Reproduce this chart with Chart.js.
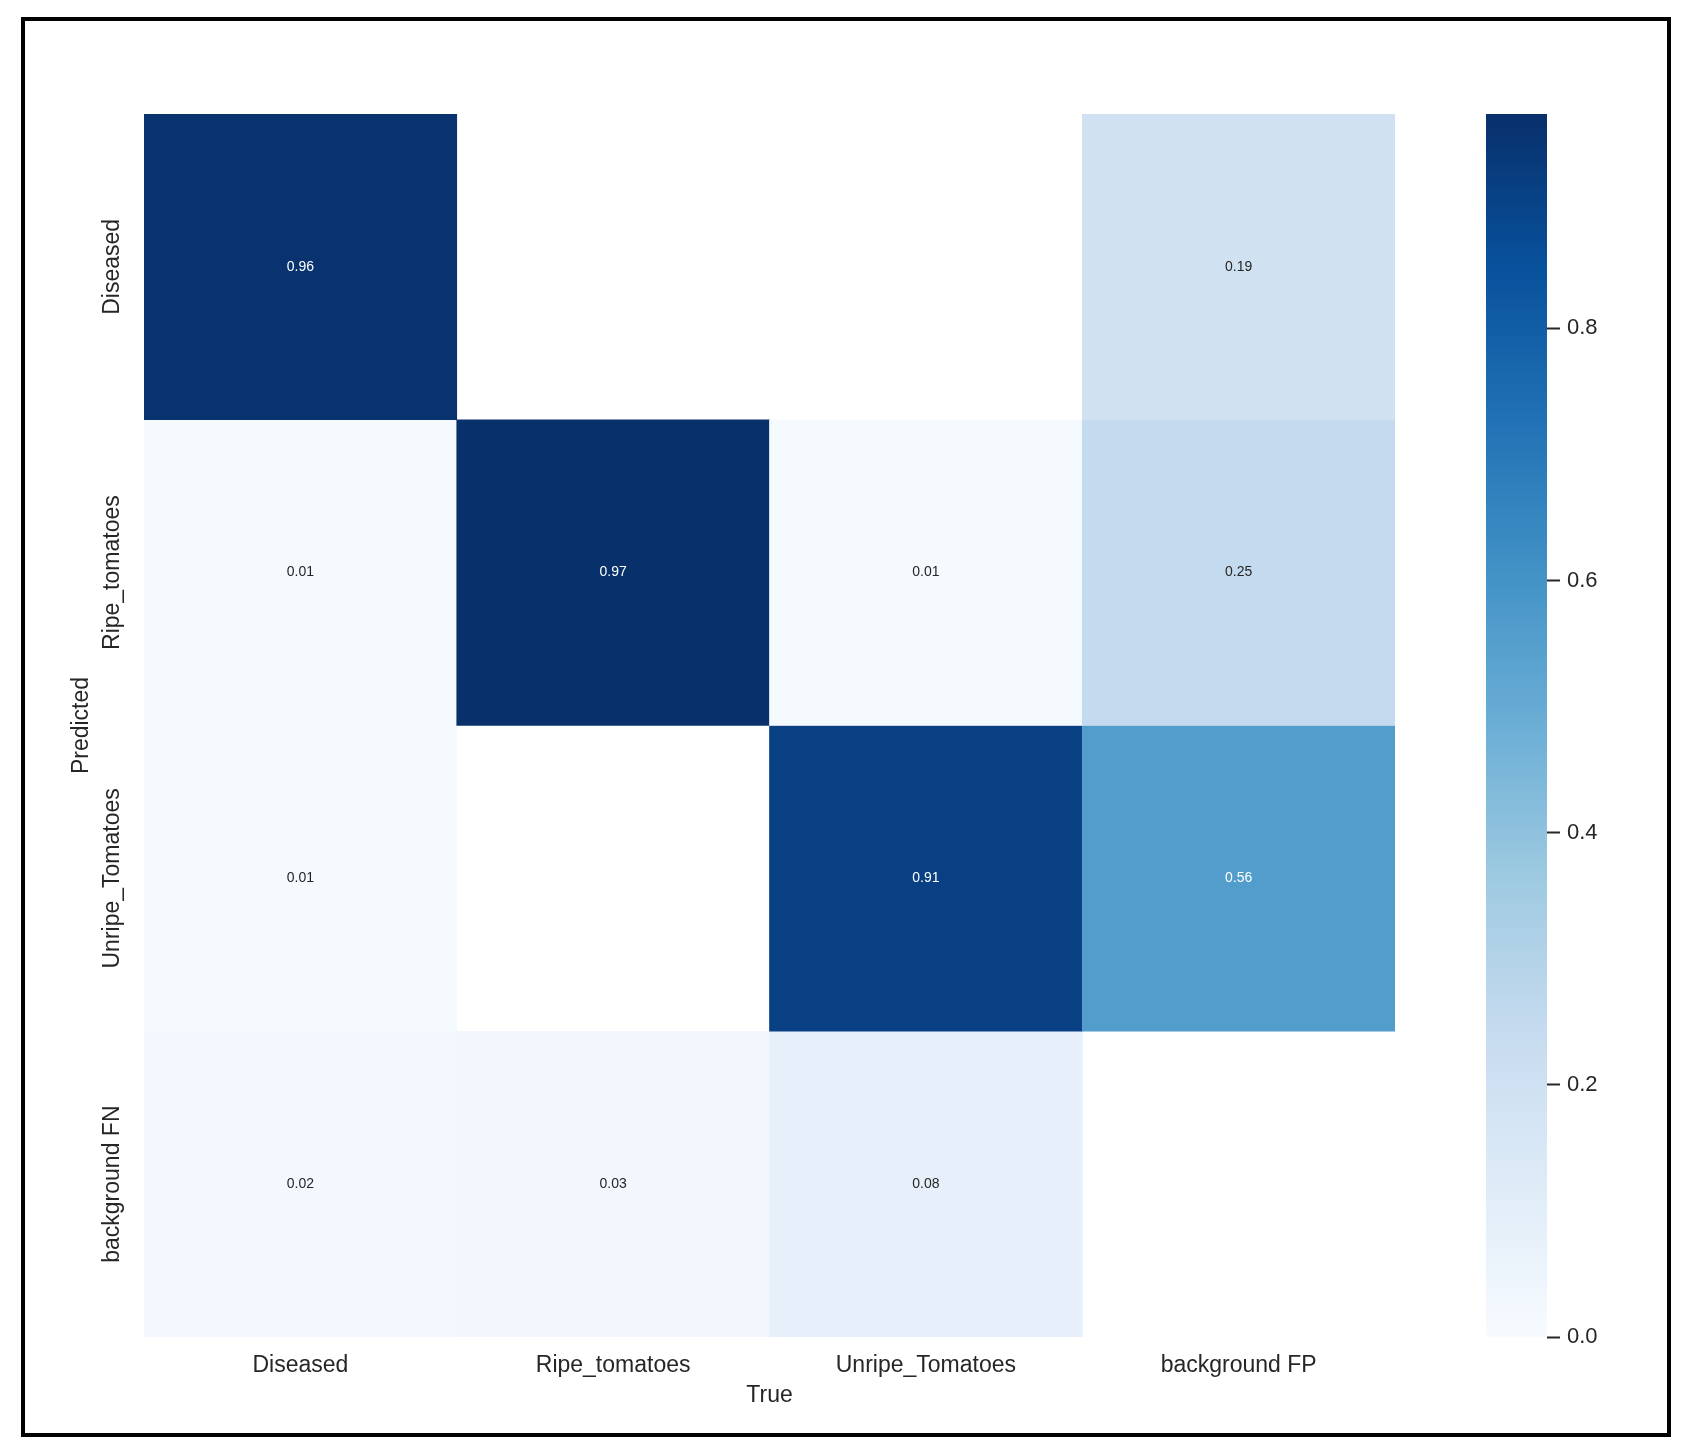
<!DOCTYPE html>
<html>
<head>
<meta charset="utf-8">
<script src="https://cdn.jsdelivr.net/npm/chart.js@4.4.1/dist/chart.umd.min.js"></script>
<style>
  html, body { margin: 0; padding: 0; background: #fff; }
  body { width: 1689px; height: 1451px; position: relative; overflow: hidden; }
  #frame { position: absolute; left: 21px; top: 17px; width: 1642px; height: 1412px; border: 4px solid #000; }
  #heat { position: absolute; left: 0; top: 0; }
  #cbar { position: absolute; left: 1440px; top: 0; }
</style>
</head>
<body>
<div id="frame"></div>
<canvas id="heat" width="1450" height="1451"></canvas>
<canvas id="cbar" width="249" height="1451"></canvas>
<script>
// columns = True, rows = Predicted
const trueLabels = ['Diseased', 'Ripe_tomatoes', 'Unripe_Tomatoes', 'background FP'];
const predLabels = ['Diseased', 'Ripe_tomatoes', 'Unripe_Tomatoes', 'background FN'];
// null = empty cell (not drawn)
const rowDiseased = [0.96, null, null, 0.19];
const rowRipe     = [0.01, 0.97, 0.01, 0.25];
const rowUnripe   = [0.01, null, 0.91, 0.56];
const rowBgFN     = [0.02, 0.03, 0.08, null];
const cbTicks = [0.0, 0.2, 0.4, 0.6, 0.8];

const rows = [rowDiseased, rowRipe, rowUnripe, rowBgFN];
const vmin = 0.0;
const vmax = Math.max(...rows.flat().filter(v => v !== null));

// matplotlib "Blues"
const blues = ['#f7fbff', '#deebf7', '#c6dbef', '#9ecae1', '#6baed6', '#4292c6', '#2171b5', '#08519c', '#08306b'];
function hexRgb(h) {
    return [parseInt(h.slice(1, 3), 16), parseInt(h.slice(3, 5), 16), parseInt(h.slice(5, 7), 16)];
}
function bluesRgb(t) {
    t = Math.min(1, Math.max(0, t));
    const p = t * (blues.length - 1);
    const i = Math.min(blues.length - 2, Math.floor(p));
    const f = p - i;
    const a = hexRgb(blues[i]), b = hexRgb(blues[i + 1]);
    return a.map((c, k) => Math.round(c + (b[k] - c) * f));
}
function cellColor(v) {
    if (v === null) return 'rgba(0,0,0,0)';
    const c = bluesRgb((v - vmin) / (vmax - vmin));
    return 'rgb(' + c.join(',') + ')';
}
function textColor(v) {
    const c = bluesRgb((v - vmin) / (vmax - vmin)).map(x => {
        x /= 255;
        return x <= 0.03928 ? x / 12.92 : Math.pow((x + 0.055) / 1.055, 2.4);
    });
    const lum = 0.2126 * c[0] + 0.7152 * c[1] + 0.0722 * c[2];
    return lum > 0.408 ? '#262626' : '#ffffff';
}

const FONT = "'Liberation Sans', Arial, sans-serif";
const TXT = '#262626';

const annotate = {
    id: 'annotate',
    afterDatasetsDraw(chart) {
        const ctx = chart.ctx;
        ctx.save();
        ctx.font = '14px ' + FONT;
        ctx.textAlign = 'center';
        ctx.textBaseline = 'middle';
        chart.data.datasets.forEach((ds, r) => {
            chart.getDatasetMeta(r).data.forEach((bar, c) => {
                const v = rows[r][c];
                if (v === null) return;
                ctx.fillStyle = textColor(v);
                ctx.fillText(v.toFixed(2), bar.x, (bar.y + bar.base) / 2);
            });
        });
        ctx.restore();
    },
    afterDraw(chart) {
        // vertical row labels, like seaborn
        const ctx = chart.ctx;
        const y = chart.scales.y;
        ctx.save();
        ctx.font = '23px ' + FONT;
        ctx.fillStyle = TXT;
        ctx.textAlign = 'center';
        ctx.textBaseline = 'middle';
        predLabels.forEach((lab, i) => {
            ctx.save();
            ctx.translate(113, y.getPixelForValue(i + 0.5));
            ctx.rotate(-Math.PI / 2);
            ctx.fillText(lab, 0, 0);
            ctx.restore();
        });
        ctx.restore();
    }
};

new Chart(document.getElementById('heat'), {
    type: 'bar',
    data: {
        labels: trueLabels,
        datasets: rows.map((row, r) => ({
            label: predLabels[r],
            data: row.map(() => 1),
            backgroundColor: row.map(cellColor),
            borderWidth: 0,
            barPercentage: 1,
            categoryPercentage: 1
        }))
    },
    options: {
        responsive: false,
        animation: false,
        layout: { padding: { top: 114, right: 55, left: 0, bottom: 0 } },
        plugins: { legend: { display: false }, tooltip: { enabled: false } },
        scales: {
            x: {
                stacked: true,
                grid: { display: false },
                border: { display: false },
                ticks: { color: TXT, font: { family: FONT, size: 23 }, padding: 7, maxRotation: 0, autoSkip: false },
                title: { display: true, text: 'True', color: TXT, font: { family: FONT, size: 23 }, padding: { top: 0, bottom: 42 } },
                afterFit(s) { s.height = 114; }
            },
            y: {
                stacked: true,
                reverse: true,
                min: 0,
                max: predLabels.length,
                grid: { display: false },
                border: { display: false },
                ticks: { display: false },
                title: { display: true, text: 'Predicted', color: TXT, font: { family: FONT, size: 23 }, padding: { top: 68, bottom: 0 } },
                afterFit(s) { s.width = 144; }
            }
        }
    },
    plugins: [annotate]
});

new Chart(document.getElementById('cbar'), {
    type: 'bar',
    data: {
        labels: ['cb'],
        datasets: [{
            data: [[vmin, vmax]],
            borderWidth: 0,
            barPercentage: 1,
            categoryPercentage: 1,
            backgroundColor(ctx) {
                const area = ctx.chart.chartArea;
                if (!area) return blues[4];
                const g = ctx.chart.ctx.createLinearGradient(0, area.bottom, 0, area.top);
                blues.forEach((c, i) => g.addColorStop(i / (blues.length - 1), c));
                return g;
            }
        }]
    },
    options: {
        responsive: false,
        animation: false,
        layout: { padding: { top: 114, bottom: 114, left: 46, right: 0 } },
        plugins: { legend: { display: false }, tooltip: { enabled: false } },
        scales: {
            x: { display: false },
            y: {
                position: 'right',
                min: vmin,
                max: vmax,
                afterBuildTicks(s) { s.ticks = cbTicks.map(v => ({ value: v })); },
                grid: { drawOnChartArea: false, drawTicks: true, tickLength: 13, tickColor: TXT, tickWidth: 2 },
                border: { display: false },
                ticks: { color: TXT, font: { family: FONT, size: 22 }, padding: 7, callback: v => v.toFixed(1) },
                afterFit(s) { s.width = 142; }
            }
        }
    }
});
</script>
</body>
</html>
